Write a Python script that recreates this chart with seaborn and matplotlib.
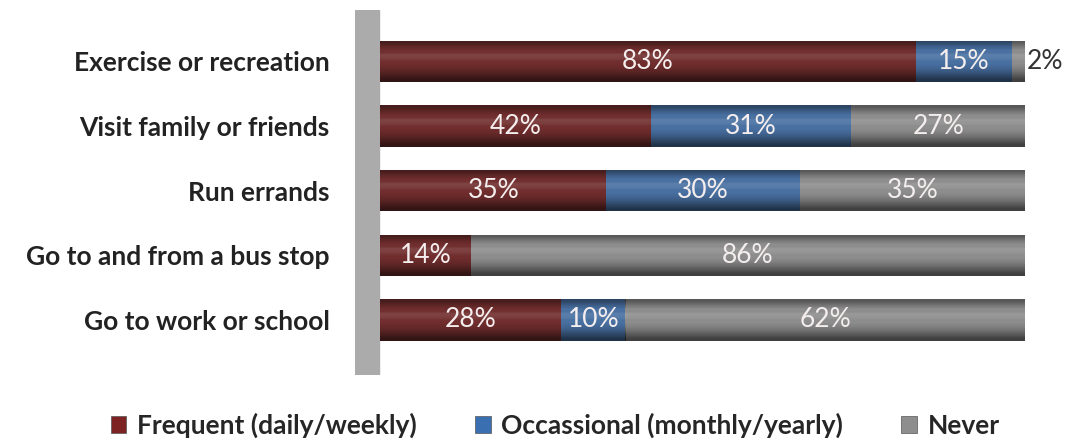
import numpy as np
import pandas as pd
import matplotlib
matplotlib.use("Agg")
import matplotlib.pyplot as plt
import seaborn as sns
from matplotlib.patches import Patch

# Data
activities = ["Exercise or recreation", "Visit family or friends", "Run errands",
              "Go to and from a bus stop", "Go to work or school"]
frequent = [83, 42, 35, 14, 28]
occasional = [15, 31, 30, 0, 10]
never = [2, 27, 35, 86, 62]
series_names = ["Frequent (daily/weekly)", "Occassional (monthly/yearly)", "Never"]

c_freq = "#7d2323"
c_occ = "#3a70b2"
c_never = "#8e8e8e"

sns.set_theme(style="white")
plt.rcParams['font.family'] = ['Lato', 'DejaVu Sans']

df = pd.DataFrame({"activity": activities, "frequent": frequent,
                   "occasional": occasional, "never": never})
df["cum_occ"] = df["frequent"] + df["occasional"]
df["cum_never"] = df["cum_occ"] + df["never"]

fig = plt.figure(figsize=(10.78, 4.42), dpi=100)
ax = fig.add_axes([0.329, 0.152, 0.631, 0.826])

# back wall
ax.axvspan(-4, -0.3, color="#ababab", zorder=0)

# stacked bars drawn as cumulative layers
sns.barplot(data=df, x="cum_never", y="activity", color=c_never, orient="h",
            width=0.64, edgecolor="none", linewidth=0, ax=ax, zorder=2)
sns.barplot(data=df, x="cum_occ", y="activity", color=c_occ, orient="h",
            width=0.64, edgecolor="none", linewidth=0, ax=ax, zorder=3)
sns.barplot(data=df, x="frequent", y="activity", color=c_freq, orient="h",
            width=0.64, edgecolor="none", linewidth=0, ax=ax, zorder=4)

# cylinder-like shading over each bar (dark edges, light band near top)
shade = np.array([0.55, 0.25, 0.0, -0.15, -0.1, 0.0, 0.12, 0.3, 0.55, 0.8])
rgba = np.zeros((len(shade), 2, 4))
rgba[..., 3] = np.abs(shade)[:, None] * 0.7
rgba[shade < 0, :, :3] = 1.0
bars = [p for p in ax.patches if p.get_width() > 0 and p.get_zorder() >= 2]
for p in bars:
    x0, y0 = p.get_x(), p.get_y()
    im = ax.imshow(rgba, extent=(x0, x0 + p.get_width(), y0 + p.get_height(), y0),
                   aspect="auto", interpolation="bilinear", zorder=p.get_zorder() + 0.5)
    im.set_clip_path(p)

# value labels
for i, row in df.iterrows():
    segs = [(0, row["frequent"]), (row["frequent"], row["occasional"]),
            (row["cum_occ"], row["never"])]
    for start, val in segs:
        if val == 0:
            continue
        if val >= 5:
            ax.text(start + val / 2, i, f"{val}%", ha="center", va="center",
                    color="#f4eeee", fontsize=19, zorder=8)
        else:
            ax.text(start + val + 0.3, i, f"{val}%", ha="left", va="center",
                    color="#333333", fontsize=19, zorder=8, clip_on=False)

ax.set_xlim(-4, 101.5)
ax.set_ylim(4.85, -0.8)
ax.set_xlabel("")
ax.set_ylabel("")
ax.set_xticks([])
ax.tick_params(axis="y", length=0, pad=18)
for lab in ax.get_yticklabels():
    lab.set_fontsize(19)
    lab.set_fontweight("bold")
    lab.set_color("#222222")
sns.despine(ax=ax, left=True, bottom=True)

handles = [Patch(facecolor=c, edgecolor="#555555", linewidth=0.5) for c in (c_freq, c_occ, c_never)]
fig.legend(handles, series_names, loc="lower center", bbox_to_anchor=(0.515, -0.045),
           ncol=3, frameon=False, handlelength=0.6, handleheight=0.6,
           handletextpad=0.4, columnspacing=2.2,
           prop={"size": 19, "weight": "bold"})

fig.savefig("out.png", dpi=100)
